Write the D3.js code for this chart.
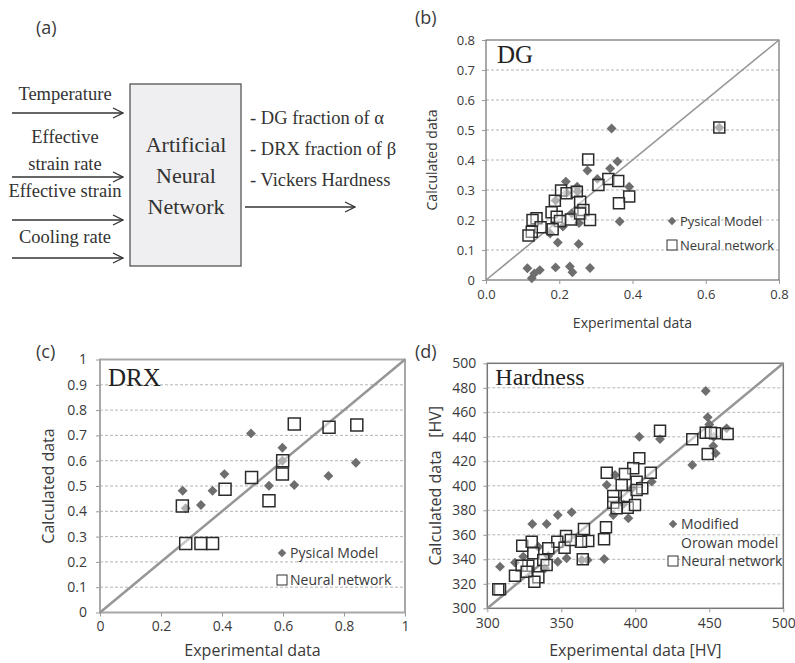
<!DOCTYPE html>
<html>
<head>
<meta charset="utf-8">
<script src="https://cdn.jsdelivr.net/npm/d3@7"></script>
<style>
  body { margin: 0; background: #fff; }
  svg { display: block; }
</style>
</head>
<body>
<div id="chart"></div>
<script>
'use strict';

// Data: [experimental, calculated]
const dgPhys = [[0.343,0.505],[0.359,0.395],[0.339,0.372],[0.277,0.365],[0.304,0.337],[0.218,0.328],
  [0.249,0.311],[0.391,0.311],[0.365,0.195],[0.196,0.125],[0.253,0.12],[0.175,0.155],[0.21,0.178],
  [0.254,0.19],[0.234,0.222],[0.19,0.265],[0.113,0.039],[0.125,0.006],[0.132,0.022],[0.147,0.033],
  [0.19,0.042],[0.229,0.045],[0.236,0.026],[0.284,0.04],[0.637,0.508],[0.22,0.29],[0.25,0.295]];
const dgNN = [[0.279,0.402],[0.334,0.337],[0.361,0.33],[0.307,0.317],[0.391,0.278],[0.363,0.256],
  [0.205,0.298],[0.22,0.289],[0.248,0.294],[0.188,0.264],[0.257,0.261],[0.266,0.233],[0.179,0.226],
  [0.193,0.211],[0.232,0.202],[0.257,0.222],[0.284,0.2],[0.202,0.197],[0.182,0.169],[0.138,0.206],
  [0.127,0.2],[0.149,0.176],[0.125,0.161],[0.116,0.148],[0.637,0.508]];

const drxPhys = [[0.495,0.708],[0.598,0.651],[0.408,0.547],[0.271,0.481],[0.369,0.481],[0.554,0.501],
  [0.637,0.504],[0.331,0.425],[0.281,0.412],[0.598,0.6],[0.749,0.54],[0.839,0.592]];
const drxNN = [[0.637,0.745],[0.599,0.6],[0.598,0.547],[0.497,0.534],[0.41,0.487],[0.554,0.442],
  [0.27,0.421],[0.281,0.273],[0.331,0.273],[0.369,0.273],[0.751,0.732],[0.842,0.741]];

const hvPhys = [[447.6,477.4],[448.9,455.9],[461.7,446.9],[452.7,432.5],[454.3,426.5],[438.5,417],
  [402.7,440.1],[416.7,438.2],[380.7,400.7],[386.3,408.8],[411.1,403.4],[385.1,376.2],[395.3,373.5],
  [357,378.4],[347.6,376.2],[340.1,368.8],[330.4,368.8],[379,340.2],[367.8,339.4],[363.8,339.4],
  [353.6,340.8],[347.6,338],[308.6,334],[318.7,337.3],[324.3,342.2],[334.5,350.3],[341.2,342.7],
  [339,332.7],[450,450],[453,440],[398,398],[392,385]];
const hvNN = [[416.7,445],[438.5,438],[447.6,443.4],[453.9,442.9],[462.4,442.3],[448.9,425.9],
  [451.1,443.4],[402.7,422.4],[398.6,414.3],[380.7,410.7],[393,409.6],[410.4,410.7],[390.8,400.7],
  [400.9,403.4],[404.7,398],[385.1,391.7],[394.2,391.7],[400.9,396.6],[385.1,386.2],[387.4,381.6],
  [394.9,382.1],[399.8,384.3],[380.2,366.1],[378.9,356.3],[365.3,364.7],[368.2,354.9],[363.3,354.4],
  [364.5,340],[353.2,359],[347.3,354.4],[352.2,349.5],[356.4,355.8],[341.2,349],[323.6,351.1],
  [330,354.4],[331.1,344.9],[337.8,339.4],[340.1,335.3],[327.7,334.8],[323.2,334.8],[318.7,326.6],
  [326.6,329.9],[334.5,325.3],[331.8,321.7],[308.6,315.5],[307.4,315.5]];

const dgTicks = [0, 0.1, 0.2, 0.3, 0.4, 0.5, 0.6, 0.7, 0.8];
const dgXTicks = [0, 0.2, 0.4, 0.6, 0.8];
const drxTicks = [0, 0.1, 0.2, 0.3, 0.4, 0.5, 0.6, 0.7, 0.8, 0.9, 1];
const drxXTicks = [0, 0.2, 0.4, 0.6, 0.8, 1];
const hvTicks = [300, 320, 340, 360, 380, 400, 420, 440, 460, 480, 500];
const hvXTicks = [300, 350, 400, 450, 500];

const annInputs = ['Temperature', ['Effective', 'strain rate'], 'Effective strain', 'Cooling rate'];
const annOutputs = ['- DG fraction of \u03b1', '- DRX fraction of \u03b2', '- Vickers Hardness'];

const W = 795, H = 663;
const sans = '"Open Sans", sans-serif';
const serif = '"Liberation Serif", "Times New Roman", serif';
const ink = '#3a3a3a';

const svg = d3.select('#chart').append('svg')
  .attr('width', W).attr('height', H)
  .style('font-family', sans);

// panel letters
[['(a)', 36, 34], ['(b)', 415, 24], ['(c)', 36, 358], ['(d)', 415, 358]].forEach(([t, x, y]) => {
  svg.append('text').attr('x', x).attr('y', y).attr('font-size', 18).attr('fill', ink).text(t);
});

// PART 1 - diagram (a)
function drawDiagram() {
  let g = svg.append('g');
  let defs = svg.append('defs');
  defs.append('marker').attr('id', 'chev')
    .attr('viewBox', '-1 -6 12 12').attr('refX', 10).attr('refY', 0)
    .attr('markerWidth', 12).attr('markerHeight', 12).attr('markerUnits', 'userSpaceOnUse')
    .attr('orient', 'auto')
    .append('path').attr('d', 'M0,-5 L10,0 L0,5').attr('fill', 'none')
    .attr('stroke', '#333').attr('stroke-width', 1.3);

  g.append('rect').attr('x', 130).attr('y', 84).attr('width', 111).attr('height', 182)
    .attr('fill', '#efeff1').attr('stroke', '#555').attr('stroke-width', 1.3);
  ['Artificial', 'Neural', 'Network'].forEach((t, i) => {
    g.append('text').attr('x', 186).attr('y', 152 + i * 31).attr('text-anchor', 'middle')
      .attr('font-family', serif).attr('font-size', 22).attr('fill', '#333').text(t);
  });

  // inputs: label lines and arrow heights
  let labelY = [[100], [143, 170], [197], [243]];
  let arrowY = [113, 177, 220, 258];
  annInputs.forEach((lab, i) => {
    let lines = Array.isArray(lab) ? lab : [lab];
    lines.forEach((l, j) => {
      g.append('text').attr('x', 65).attr('y', labelY[i][j]).attr('text-anchor', 'middle')
        .attr('font-family', serif).attr('font-size', 18.5).attr('fill', '#333').text(l);
    });
    g.append('line').attr('x1', 12).attr('x2', 123).attr('y1', arrowY[i]).attr('y2', arrowY[i])
      .attr('stroke', '#333').attr('stroke-width', 1.3).attr('marker-end', 'url(#chev)');
  });

  annOutputs.forEach((t, i) => {
    g.append('text').attr('x', 250).attr('y', 124 + i * 31)
      .attr('font-family', serif).attr('font-size', 18.5).attr('fill', '#333').text(t);
  });
  g.append('line').attr('x1', 245).attr('x2', 355).attr('y1', 207).attr('y2', 207)
    .attr('stroke', '#333').attr('stroke-width', 1.3).attr('marker-end', 'url(#chev)');
}

// PART 2 - scatter panels
function drawScatter(cfg) {
  let x = d3.scaleLinear().domain(cfg.domain).range(cfg.xRange);
  let y = d3.scaleLinear().domain(cfg.domain).range(cfg.yRange);
  let g = svg.append('g');

  // dashed grid
  g.selectAll('line.grid')
    .data(cfg.yTicks.filter(d => d !== cfg.domain[0] && d !== cfg.domain[1]))
    .join('line').classed('grid', true)
    .attr('x1', cfg.xRange[0]).attr('x2', cfg.xRange[1])
    .attr('y1', d => y(d)).attr('y2', d => y(d))
    .attr('stroke', '#b5b5b5').attr('stroke-width', 1).attr('stroke-dasharray', '3,2');

  // frame
  g.append('rect')
    .attr('x', cfg.xRange[0]).attr('y', cfg.yRange[1])
    .attr('width', cfg.xRange[1] - cfg.xRange[0]).attr('height', cfg.yRange[0] - cfg.yRange[1])
    .attr('fill', 'none').attr('stroke', cfg.frame).attr('stroke-width', cfg.frameW);

  // axes
  let xAxis = g.append('g').attr('transform', `translate(0,${cfg.yRange[0]})`)
    .call(d3.axisBottom(x).tickValues(cfg.xTicks).tickFormat(cfg.xFmt).tickSize(4).tickSizeOuter(0).tickPadding(cfg.xPad));
  let yAxis = g.append('g').attr('transform', `translate(${cfg.xRange[0]},0)`)
    .call(d3.axisLeft(y).tickValues(cfg.yTicks).tickFormat(cfg.yFmt).tickSize(4).tickSizeOuter(0).tickPadding(cfg.yPad));
  [xAxis, yAxis].forEach(a => {
    a.select('.domain').remove();
    a.selectAll('.tick line').attr('stroke', '#999');
    a.selectAll('text').attr('font-family', sans).attr('font-size', cfg.tickFs).attr('fill', ink);
  });

  // 1:1 line
  g.append('line')
    .attr('x1', x(cfg.domain[0])).attr('y1', y(cfg.domain[0]))
    .attr('x2', x(cfg.domain[1])).attr('y2', y(cfg.domain[1]))
    .attr('stroke', '#969696').attr('stroke-width', cfg.diagW);

  // physical model diamonds
  let diamond = d3.symbol().type(d3.symbolSquare).size(cfg.dSize * cfg.dSize);
  g.selectAll('path.phys').data(cfg.phys).join('path').classed('phys', true)
    .attr('d', diamond)
    .attr('transform', d => `translate(${x(d[0])},${y(d[1])}) rotate(45)`)
    .attr('fill', '#6e6e6e');

  // neural network squares
  let square = d3.symbol().type(d3.symbolSquare).size(cfg.sSize * cfg.sSize);
  g.selectAll('path.nn').data(cfg.nn).join('path').classed('nn', true)
    .attr('d', square)
    .attr('transform', d => `translate(${x(d[0])},${y(d[1])})`)
    .attr('fill', '#fff').attr('fill-opacity', 0.45)
    .attr('stroke', '#2b2b2b').attr('stroke-width', 1.5);

  // panel title
  g.append('text').attr('x', cfg.xRange[0] + cfg.titleDx).attr('y', cfg.yRange[1] + cfg.titleDy)
    .attr('font-family', serif).attr('font-size', cfg.titleFs).attr('fill', '#222').text(cfg.title);

  // legend
  let lg = g.append('g').attr('transform', `translate(${cfg.legend[0]},${cfg.legend[1]})`);
  lg.append('path').attr('d', d3.symbol().type(d3.symbolSquare).size(36))
    .attr('transform', 'rotate(45)').attr('fill', '#6e6e6e');
  cfg.physLabel.forEach((t, i) => {
    lg.append('text').attr('x', 8).attr('y', 5 + i * 19).attr('font-size', cfg.legFs).attr('fill', ink).text(t);
  });
  let dy = cfg.legGap;
  lg.append('rect').attr('x', -5).attr('y', dy - 5).attr('width', 10).attr('height', 10)
    .attr('fill', '#fff').attr('stroke', '#333').attr('stroke-width', 1);
  lg.append('text').attr('x', 8).attr('y', dy + 5).attr('font-size', cfg.legFs).attr('fill', ink).text('Neural network');

  // axis titles
  let xc = (cfg.xRange[0] + cfg.xRange[1]) / 2, yc = (cfg.yRange[0] + cfg.yRange[1]) / 2;
  g.append('text').attr('x', xc).attr('y', cfg.xTitleY).attr('text-anchor', 'middle')
    .attr('font-size', cfg.titleAxFs).attr('fill', ink).text(cfg.xTitle);
  g.append('text').attr('transform', `translate(${cfg.yTitleX},${yc + cfg.yTitleDy}) rotate(-90)`)
    .attr('text-anchor', 'middle').attr('font-size', cfg.titleAxFs).attr('fill', ink)
    .attr('xml:space', 'preserve').text(cfg.yTitle);
}

drawDiagram();

drawScatter({
  domain: [0, 0.8], xRange: [486, 779], yRange: [280, 40],
  yTicks: dgTicks, xTicks: dgXTicks,
  xFmt: d3.format('.1f'), yFmt: d => d === 0 ? '0' : d3.format('.1f')(d),
  xPad: 6, yPad: 7, tickFs: 13, frame: '#555', frameW: 1, diagW: 1.6,
  phys: dgPhys, nn: dgNN, dSize: 7, sSize: 11,
  title: 'DG', titleDx: 11, titleDy: 23, titleFs: 25,
  legend: [672, 221], legGap: 24, legFs: 13, physLabel: ['Pysical Model'],
  xTitle: 'Experimental data', xTitleY: 328, yTitle: 'Calculated data', yTitleX: 437, yTitleDy: 0,
  titleAxFs: 14
});

drawScatter({
  domain: [0, 1], xRange: [100, 405], yRange: [612.5, 359.5],
  yTicks: drxTicks, xTicks: drxXTicks,
  xFmt: d3.format('~g'), yFmt: d3.format('~g'),
  xPad: 5, yPad: 9, tickFs: 14, frame: '#a8a8a8', frameW: 2, diagW: 2.5,
  phys: drxPhys, nn: drxNN, dSize: 7, sSize: 12,
  title: 'DRX', titleDx: 8, titleDy: 26, titleFs: 25,
  legend: [282, 553], legGap: 27, legFs: 14, physLabel: ['Pysical Model'],
  xTitle: 'Experimental data', xTitleY: 656, yTitle: 'Calculated data', yTitleX: 54, yTitleDy: 0,
  titleAxFs: 16
});

drawScatter({
  domain: [300, 500], xRange: [487.3, 783.3], yRange: [608.3, 363.3],
  yTicks: hvTicks, xTicks: hvXTicks,
  xFmt: d3.format('d'), yFmt: d3.format('d'),
  xPad: 6, yPad: 7, tickFs: 14, frame: '#777', frameW: 1.5, diagW: 2.5,
  phys: hvPhys, nn: hvNN, dSize: 7, sSize: 11,
  title: 'Hardness', titleDx: 8, titleDy: 22, titleFs: 24,
  legend: [673, 524], legGap: 37, legFs: 14, physLabel: ['Modified', 'Orowan model'],
  xTitle: 'Experimental data [HV]', xTitleY: 656, yTitle: 'Calculated data   [HV]', yTitleX: 441, yTitleDy: 0,
  titleAxFs: 16
});
</script>
</body>
</html>
